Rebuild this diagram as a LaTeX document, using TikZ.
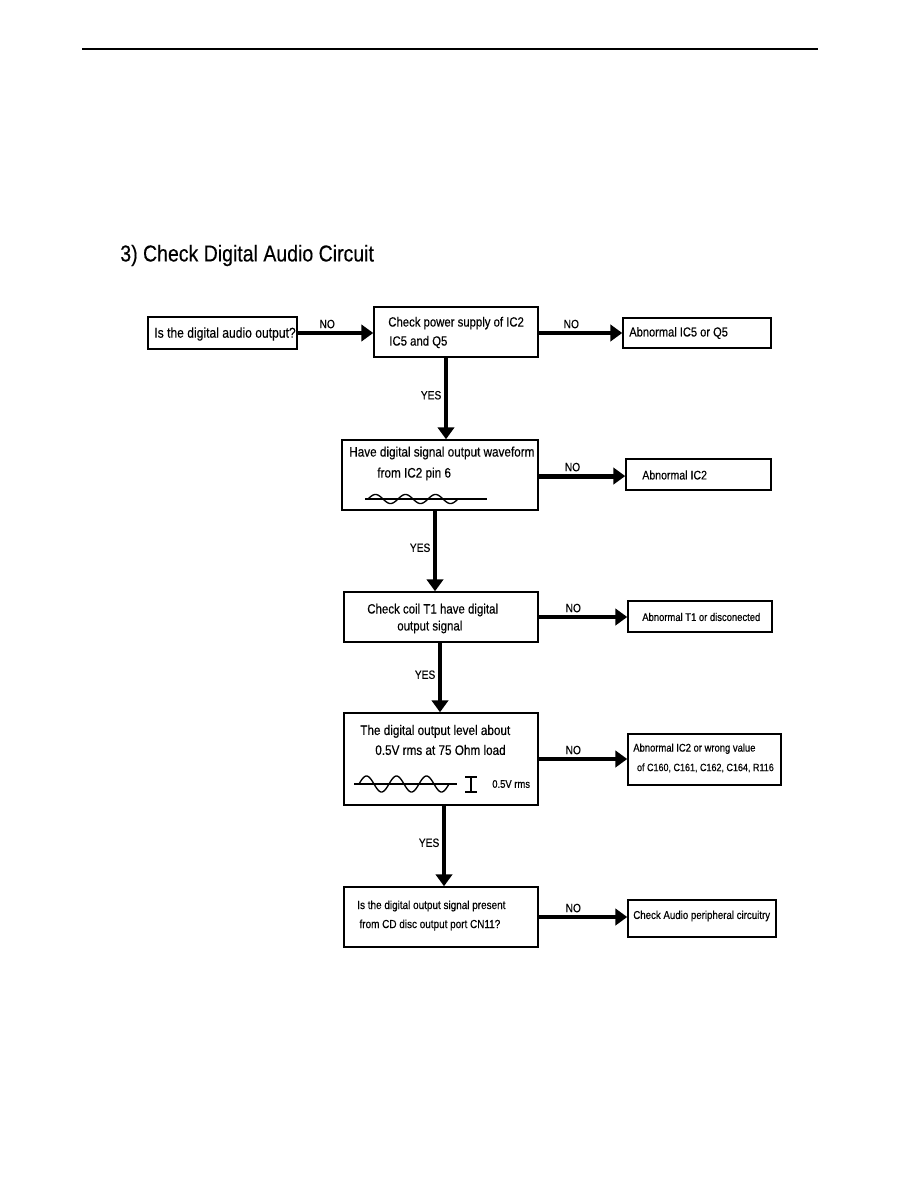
\documentclass[tikz,border=0pt]{standalone}
\usepackage{fontspec}
\setmainfont[FakeStretch=0.85, FakeBold=0.4]{Liberation Sans}
\usetikzlibrary{arrows.meta}

\begin{document}
\begin{tikzpicture}[x=0.6667pt, y=-0.6667pt,
		% Styles
		box/.style 2 args={draw, line width=1pt, minimum width=#1*0.6667pt, minimum height=#2*0.6667pt, inner sep=0pt},
		box text/.style={anchor=west, align=left, inner sep=0pt, font=\fontsize{9}{13}\selectfont},
		small text/.style={box text, font=\fontsize{7.4}{13}\selectfont},
		flow/.style={line width=3.3pt, -{Triangle[length=8pt, width=11pt]}},
		answer/.style={font=\fontsize{8}{9}\selectfont, inner sep=1.5pt},
		wave/.style={line width=0.9pt}
		]
		
		\useasboundingbox (0,0) rectangle (918,1188);
		
		% header rule and title
		\draw[line width=1.3pt] (82,49) -- (818,49);
		\node[anchor=west, inner sep=0pt, font=\fontsize{15.3}{17}\selectfont] (title) at (120,255.5) {3) Check Digital Audio Circuit};
		
		% The boxes
		\node[box={149}{32}] (audio) at (222.5,333) {};
		\node[box={164}{50}] (supply) at (456,332) {};
		\node[box={148}{30}] (ic5q5) at (697,333) {};
		\node[box={196}{70}] (waveform) at (440,475) {};
		\node[box={145}{31}] (ic2) at (698.5,474.5) {};
		\node[box={194}{50}] (coil) at (441,617) {};
		\node[box={144}{31}] (t1) at (700,616.5) {};
		\node[box={194}{92}] (level) at (441,759) {};
		\node[box={153}{51}] (values) at (704.5,759.5) {};
		\node[box={194}{60}] (port) at (441,917) {};
		\node[box={148}{37}] (periph) at (702,918.5) {};
		
		% texts in the boxes
		\node[box text, font=\fontsize{9.5}{13}\selectfont] (audio-text) at (154,334) {Is the digital audio output?};
		\node[box text, font=\fontsize{8.9}{12.7}\selectfont] (supply-text) at (388,332.5) {Check power supply of IC2\\[0pt]\hspace{0.7pt}IC5 and Q5};
		\node[box text, font=\fontsize{8.7}{10}\selectfont] (ic5q5-text) at (629,333) {Abnormal IC5 or Q5};
		\node[box text, font=\fontsize{9.2}{14}\selectfont] (waveform-text) at (349,463.5) {Have digital signal output waveform\\\hspace{18.7pt}from IC2 pin 6};
		\node[box text, font=\fontsize{8.3}{10}\selectfont] (ic2-text) at (642,475) {Abnormal IC2};
		\node[box text, font=\fontsize{9}{11.3}\selectfont] (coil-text) at (367,618.5) {Check coil T1 have digital\\\hspace{20pt}output signal};
		\node[small text] (t1-text) at (642,617) {Abnormal T1 or disconected};
		\node[box text, font=\fontsize{9.2}{13.3}\selectfont] (level-text) at (360,740) {The digital output level about\\\hspace{10pt}0.5V rms at 75 Ohm load};
		\node[small text] (values-text) at (633,758) {Abnormal IC2 or wrong value\\\hspace{2.5pt}{\fontsize{7.05}{13}\selectfont of C160, C161, C162, C164, R116}};
		\node[box text, font=\fontsize{7.8}{12.7}\selectfont] (port-text) at (357,915.5) {Is the digital output signal present\\\hspace{1.5pt}from CD disc output port CN11?};
		\node[box text, font=\fontsize{7.6}{10}\selectfont] (periph-text) at (633,916) {Check Audio peripheral circuitry};
		
		% waveforms
		\draw[wave] (365,499) -- (487,499);
		\draw[wave] plot[domain=0:1080, samples=109, smooth] ({368+\x/12}, {499-4.5*sin(\x)});
		\draw[wave] (354,784) -- (457,784);
		\draw[wave] plot[domain=0:1080, samples=109, smooth] ({359+\x/12}, {784-8*sin(\x)});
		\draw[wave] (465,777) -- (477,777) (471,777) -- (471,792) (465,792) -- (477,792);
		\node[small text] (rms-text) at (492,784) {0.5V rms};
		
		% NO branches
		\draw[flow] (audio.east) -- node[answer, pos=0.39, above] (no-a) {NO} (audio.east -| supply.west);
		\draw[flow] (ic5q5.west -| supply.east) -- node[answer, pos=0.39, above] (no-b) {NO} (ic5q5.west);
		\draw[flow] ([yshift=-0.7pt]waveform.east) -- node[answer, pos=0.39, above] (no-c) {NO} ([yshift=-0.7pt]waveform.east -| ic2.west);
		\draw[flow] (coil.east) -- node[answer, pos=0.39, above] (no-d) {NO} (coil.east -| t1.west);
		\draw[flow] (level.east) -- node[answer, pos=0.39, above] (no-e) {NO} (level.east -| values.west);
		\draw[flow] (port.east) -- node[answer, pos=0.39, above] (no-f) {NO} (port.east -| periph.west);
		
		% YES branches
		\draw[flow] ([xshift=-6.67pt]supply.south) -- node[answer, pos=0.46, left] (yes-a) {YES} ([xshift=-6.67pt]supply.south |- waveform.north);
		\draw[flow] ([xshift=-3.33pt]waveform.south) -- node[answer, pos=0.46, left] (yes-b) {YES} ([xshift=-3.33pt]waveform.south |- coil.north);
		\draw[flow] ([xshift=-0.67pt]coil.south) -- node[answer, pos=0.46, left] (yes-c) {YES} ([xshift=-0.67pt]coil.south |- level.north);
		\draw[flow] ([xshift=2pt]level.south) -- node[answer, pos=0.46, left] (yes-d) {YES} ([xshift=2pt]level.south |- port.north);
		
	\end{tikzpicture}
\end{document}
